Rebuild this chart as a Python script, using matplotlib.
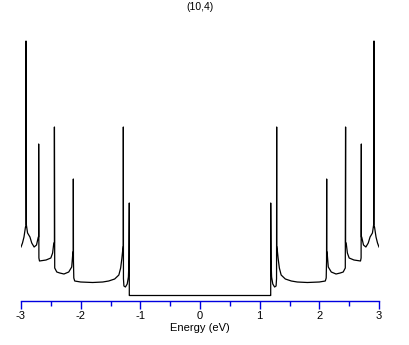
"""
Density of states of a (10,4) carbon nanotube, redrawn from a picture.
The curve is symmetric about E = 0, so only the positive half is listed.
"""

import numpy as np
import matplotlib.pyplot as plt

title = '(10,4)'

# Positive-energy half of the DOS curve (energy in eV, DOS in arbitrary units)
energy_pos = [0.00, 1.180, 1.185, 1.185, 1.190, 1.200, 1.220, 1.250, 1.275, 1.283,
              1.285, 1.285, 1.290, 1.310, 1.330, 1.360, 1.430, 1.530, 1.630, 1.800,
              2.000, 2.100, 2.115, 2.121, 2.123, 2.123, 2.130, 2.150, 2.200, 2.280,
              2.350, 2.400, 2.435, 2.440, 2.440, 2.450, 2.470, 2.500, 2.580, 2.690,
              2.700, 2.704, 2.704, 2.710, 2.740, 2.780, 2.820, 2.850, 2.890, 2.910,
              2.916, 2.916, 2.925, 2.950, 2.975, 3.000]
dos_pos    = [0.052, 0.052, 0.052, 0.977, 0.407, 0.237, 0.167, 0.137, 0.147, 0.220,
              1.737, 0.537, 0.537, 0.420, 0.327, 0.257, 0.217, 0.197, 0.187, 0.182,
              0.187, 0.197, 0.227, 0.400, 1.217, 0.487, 0.487, 0.337, 0.287, 0.267,
              0.277, 0.287, 0.327, 1.737, 0.577, 0.577, 0.477, 0.427, 0.407, 0.397,
              0.427, 1.567, 0.637, 0.637, 0.557, 0.537, 0.577, 0.637, 0.677, 0.757,
              2.597, 0.737, 0.737, 0.637, 0.577, 0.537]

energy = np.concatenate([-np.array(energy_pos)[::-1], energy_pos])
dos = np.concatenate([np.array(dos_pos)[::-1], dos_pos])

plt.rcParams['font.family'] = ['Liberation Sans', 'DejaVu Sans']
plt.rcParams['axes.unicode_minus'] = False

fig = plt.figure(figsize=(4.09, 3.45), dpi=100)
ax = fig.add_axes([21/409, 44.3/345, 358/409, 260.7/345])
ax.plot(energy, dos, color='black', lw=0.9)

ax.set_xlim(-3, 3)
ax.set_ylim(0, 2.607)
ax.set_xticks(np.arange(-3, 3.1, 1))
ax.set_xticks(np.arange(-2.5, 3, 1), minor=True)
ax.set_yticks([])
for s in ['left', 'right', 'top']:
    ax.spines[s].set_visible(False)
ax.spines['bottom'].set_color('#0000e0')
ax.spines['bottom'].set_linewidth(1.0)
ax.tick_params(axis='x', which='major', direction='out', length=5.5, width=1.0,
               color='#0000e0', labelsize=8, pad=2)
ax.tick_params(axis='x', which='minor', direction='out', length=3.5, width=1.0,
               color='#0000e0')
ax.set_xlabel('Energy (eV)', fontsize=8, labelpad=1)
fig.text(200/409, 1 - 7/345, title, ha='center', va='center', fontsize=7.5)

fig.savefig('out.png', dpi=100)
